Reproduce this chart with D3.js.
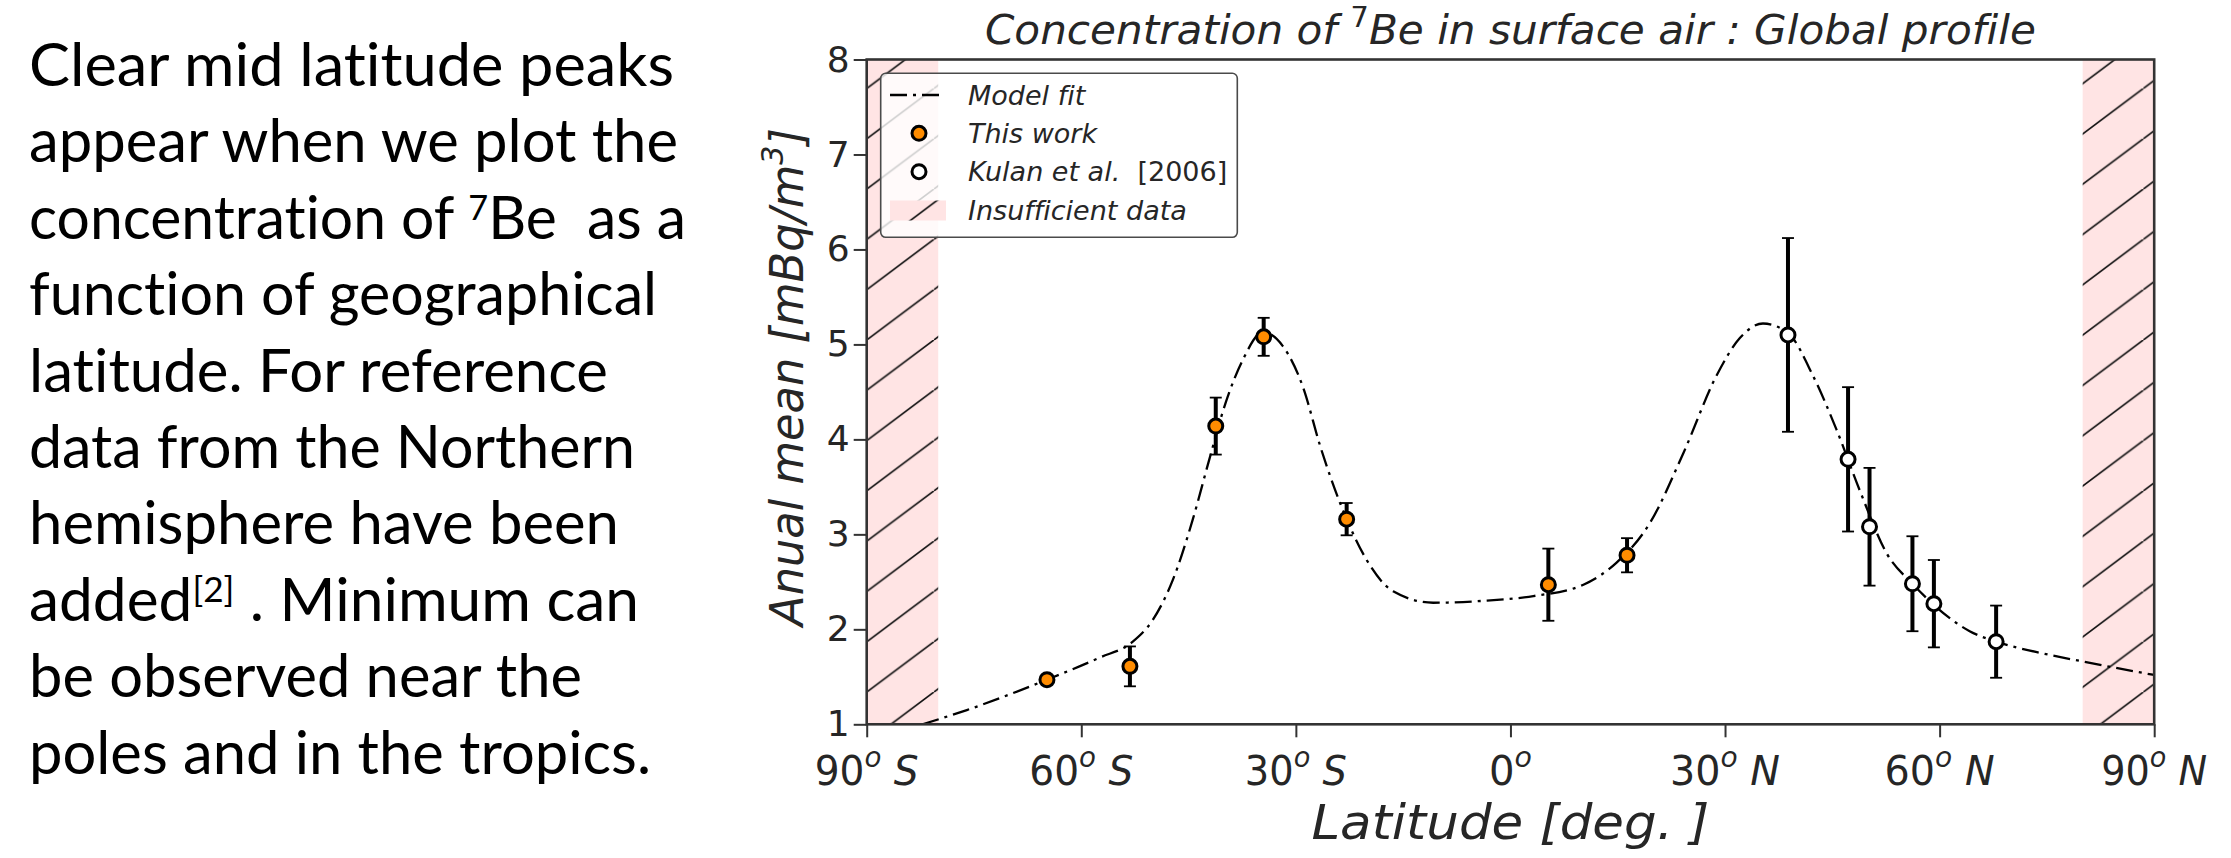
<!DOCTYPE html>
<html>
<head>
<meta charset="utf-8">
<script src="https://cdn.jsdelivr.net/npm/d3@7"></script>
<style>
  html, body { margin: 0; padding: 0; background: #fff; }
  svg { display: block; }
  text { white-space: pre; font-variant-ligatures: none; }
</style>
</head>
<body>
<div id="chart"></div>
<script>
// ---- data ----
const thisWorkLat = [-64.8, -53.2, -41.2, -34.5, -22.9, 5.3, 16.3];
const thisWorkVal = [1.47, 1.61, 4.14, 5.08, 3.16, 2.47, 2.78];
const thisWorkErr = [0.04, 0.21, 0.30, 0.20, 0.17, 0.38, 0.18];

const kulanLat = [38.8, 47.2, 50.2, 56.2, 59.2, 67.9];
const kulanVal = [5.10, 3.79, 3.08, 2.48, 2.27, 1.87];
const kulanErr = [1.02, 0.76, 0.62, 0.50, 0.46, 0.38];

const fitLat = [-82.2, -76, -64.8, -57.5, -52.8, -50, -47.2, -44.4, -42.1, -39.8, -37.4, -34.6,
  -31.8, -29, -26.6, -22.9, -20.1, -16.4, -10.8, -3.8, 3.2, 10.2, 14.8, 19.5, 24.2, 28.8,
  32.1, 35.3, 38.8, 42.3, 45.6, 48.9, 52.6, 56.2, 59.6, 64.2, 67.9, 73.6, 80.1, 88.5, 90];
const fitVal = [1.0, 1.15, 1.47, 1.70, 1.87, 2.10, 2.52, 3.16, 3.79, 4.39, 4.84, 5.13,
  4.98, 4.55, 3.93, 3.16, 2.73, 2.40, 2.28, 2.30, 2.35, 2.47, 2.70, 3.12, 3.86, 4.67,
  5.07, 5.22, 5.12, 4.67, 4.10, 3.45, 2.80, 2.48, 2.23, 1.98, 1.87, 1.76, 1.66, 1.54, 1.52];

const insufficientBands = [[-90, -80], [80, 90]];

const xTickValues = [-90, -60, -30, 0, 30, 60, 90];
const xTickNums = ["90", "60", "30", "0", "30", "60", "90"];
const xTickHemi = ["S", "S", "S", "", "N", "N", "N"];
const yTickValues = [1, 2, 3, 4, 5, 6, 7, 8];

const legendLabels = ["Model fit", "This work", "Kulan et al.", "Insufficient data"];

const noteLines = [
  ["Clear mid latitude peaks"],
  ["appear when we plot the"],
  ["concentration of ", "7", "Be  as a"],
  ["function of geographical"],
  ["latitude. For reference"],
  ["data from the Northern"],
  ["hemisphere have been"],
  ["added", "[2]", " . Minimum can"],
  ["be observed near the"],
  ["poles and in the tropics."]
];
const noteWidths = [645, 649, 657, 628, 579, 606, 590, 610, 553, 622];

// ---- layout ----
const W = 2231, H = 858;
const axL = 866.7, axR = 2154.2, axT = 59.5, axB = 724.3;
const ink = "#262626";
const chartFont = "'DejaVu Sans', sans-serif";

const svg = d3.select("#chart").append("svg")
  .attr("width", W).attr("height", H);
const defs = svg.append("defs");

const x = d3.scaleLinear().domain([-90, 90]).range([axL, axR]);
const y = d3.scaleLinear().domain([1, 8]).range([axB, axT]);

// hatch pattern '/' on light pink
function hatch(id, ox, oy) {
  const h = 50.3, w = h / 0.7486;
  const p = defs.append("pattern").attr("id", id)
    .attr("patternUnits", "userSpaceOnUse")
    .attr("x", ox).attr("y", oy).attr("width", w).attr("height", h);
  p.append("rect").attr("width", w).attr("height", h).attr("fill", "#ffe4e4");
  p.append("path")
    .attr("d", `M${-w / 2},${1.5 * h}L${1.5 * w},${-h / 2}M${-w},${h}L0,0M${w},${2 * h}L${2 * w},${h}`)
    .attr("stroke", "#111").attr("stroke-width", 1.7).attr("fill", "none");
}
hatch("hatchMain", axL, 340 - 50.3);
hatch("hatchLegend", 890, 221.7 - 50.3 + 14);

defs.append("clipPath").attr("id", "plotClip")
  .append("rect").attr("x", axL).attr("y", axT).attr("width", axR - axL).attr("height", axB - axT);

// ---- left note text ----
const note = svg.append("g").attr("font-family", "Lato, 'Open Sans', sans-serif")
  .attr("font-size", 60).attr("fill", "#000");
noteLines.forEach((parts, i) => {
  const t = note.append("text")
    .attr("x", 29).attr("y", 86 + i * 76.4)
    .attr("textLength", noteWidths[i]).attr("lengthAdjust", "spacingAndGlyphs");
  parts.forEach((s, k) => {
    if (parts.length === 3 && k === 1) {
      t.append("tspan").attr("font-size", 35).attr("dy", -19).text(s);
    } else if (parts.length === 3 && k === 2) {
      t.append("tspan").attr("dy", 19).text(s);
    } else {
      t.append("tspan").text(s);
    }
  });
});

// ---- insufficient data bands ----
const plot = svg.append("g").attr("clip-path", "url(#plotClip)");
plot.selectAll("rect.band")
  .data(insufficientBands)
  .join("rect")
    .attr("class", "band")
    .attr("x", d => x(d[0]))
    .attr("y", axT)
    .attr("width", d => x(d[1]) - x(d[0]))
    .attr("height", axB - axT)
    .attr("fill", "url(#hatchMain)");

// ---- model fit ----
const fitData = fitLat.map((d, i) => [d, fitVal[i]]);
const line = d3.line()
  .x(d => x(d[0])).y(d => y(d[1]))
  .curve(d3.curveMonotoneX);
plot.append("path")
  .datum(fitData)
  .attr("d", line)
  .attr("fill", "none")
  .attr("stroke", "#000")
  .attr("stroke-width", 2.3)
  .attr("stroke-dasharray", "17,6,3,6");

// ---- error bars + markers ----
function series(lat, val, err, fill, cls) {
  const data = lat.map((d, i) => ({lat: d, v: val[i], e: err[i]}));
  const g = svg.append("g").attr("class", cls);
  g.selectAll("line.bar").data(data).join("line")
    .attr("class", "bar")
    .attr("x1", d => x(d.lat)).attr("x2", d => x(d.lat))
    .attr("y1", d => y(d.v - d.e)).attr("y2", d => y(d.v + d.e))
    .attr("stroke", "#000").attr("stroke-width", 4);
  ["top", "bottom"].forEach(side => {
    g.selectAll("line.cap-" + side).data(data).join("line")
      .attr("class", "cap-" + side)
      .attr("x1", d => x(d.lat) - 6).attr("x2", d => x(d.lat) + 6)
      .attr("y1", d => y(side === "top" ? d.v + d.e : d.v - d.e))
      .attr("y2", d => y(side === "top" ? d.v + d.e : d.v - d.e))
      .attr("stroke", "#000").attr("stroke-width", 1.8);
  });
  g.selectAll("circle").data(data).join("circle")
    .attr("cx", d => x(d.lat)).attr("cy", d => y(d.v))
    .attr("r", 7).attr("fill", fill)
    .attr("stroke", "#000").attr("stroke-width", 3);
}
series(thisWorkLat, thisWorkVal, thisWorkErr, "#ff8c00", "thiswork");
series(kulanLat, kulanVal, kulanErr, "#fff", "kulan");

// ---- axes ----
const yAxis = d3.axisLeft(y).tickValues(yTickValues).tickFormat(d3.format("d"))
  .tickSize(13).tickSizeOuter(0).tickPadding(4);
const gy = svg.append("g").attr("transform", `translate(${axL},0)`).call(yAxis);
gy.select(".domain").remove();
gy.selectAll(".tick line").attr("stroke", "#333").attr("stroke-width", 2);
gy.selectAll(".tick text")
  .attr("font-family", chartFont).attr("font-size", 36).attr("fill", ink);

const xAxis = d3.axisBottom(x).tickValues(xTickValues).tickSize(13).tickSizeOuter(0).tickFormat("");
const gx = svg.append("g").attr("transform", `translate(0,${axB})`).call(xAxis);
gx.select(".domain").remove();
gx.selectAll(".tick line").attr("stroke", "#333").attr("stroke-width", 2);

const xLabelWidths = [104, 104, 102, 43, 110, 110, 106];
xTickValues.forEach((v, i) => {
  const t = svg.append("text")
    .attr("x", x(v)).attr("y", 785)
    .attr("text-anchor", "middle")
    .attr("font-family", chartFont).attr("font-size", 41).attr("fill", ink)
    .attr("textLength", xLabelWidths[i]).attr("lengthAdjust", "spacingAndGlyphs");
  t.append("tspan").text(xTickNums[i]);
  t.append("tspan").attr("font-size", 29).attr("dy", -18).attr("font-style", "italic").text("o");
  if (xTickHemi[i]) {
    t.append("tspan").attr("dy", 18).attr("font-style", "italic").text(" " + xTickHemi[i]);
  }
});

// spines
svg.append("rect")
  .attr("x", axL).attr("y", axT).attr("width", axR - axL).attr("height", axB - axT)
  .attr("fill", "none").attr("stroke", "#333").attr("stroke-width", 2.6);

// axis titles
svg.append("text")
  .attr("x", (axL + axR) / 2).attr("y", 839)
  .attr("text-anchor", "middle")
  .attr("font-family", chartFont).attr("font-size", 48).attr("font-style", "italic").attr("fill", ink)
  .attr("textLength", 398).attr("lengthAdjust", "spacingAndGlyphs")
  .text("Latitude [deg. ]");

const yl = svg.append("text")
  .attr("transform", "translate(803,377) rotate(-90)")
  .attr("text-anchor", "middle")
  .attr("font-family", chartFont).attr("font-size", 46).attr("font-style", "italic").attr("fill", ink)
  .attr("textLength", 498).attr("lengthAdjust", "spacingAndGlyphs");
yl.append("tspan").text("Anual mean [mBq/m");
yl.append("tspan").attr("font-size", 31).attr("dy", -20).text("3");
yl.append("tspan").attr("dy", 20).text("]");

const title = svg.append("text")
  .attr("x", (axL + axR) / 2).attr("y", 44)
  .attr("text-anchor", "middle")
  .attr("font-family", chartFont).attr("font-size", 41).attr("font-style", "italic").attr("fill", ink)
  .attr("textLength", 1051).attr("lengthAdjust", "spacingAndGlyphs");
title.append("tspan").text("Concentration of ");
title.append("tspan").attr("font-size", 28).attr("dy", -17).attr("font-style", "normal").text("7");
title.append("tspan").attr("dy", 17).text("Be in surface air : Global profile");

// ---- legend ----
const lg = svg.append("g").attr("font-family", chartFont).attr("font-size", 27).attr("fill", ink);
lg.append("rect")
  .attr("x", 880.7).attr("y", 73.3).attr("width", 356.6).attr("height", 164).attr("rx", 5)
  .attr("fill", "#fff").attr("fill-opacity", 0.8)
  .attr("stroke", "#4a4a4a").attr("stroke-width", 1.6);
const rowY = [95, 133.3, 171.7, 210];
lg.append("line")
  .attr("x1", 890).attr("x2", 945).attr("y1", rowY[0]).attr("y2", rowY[0])
  .attr("stroke", "#000").attr("stroke-width", 2.3).attr("stroke-dasharray", "17,6,3,6");
lg.append("circle").attr("cx", 919).attr("cy", rowY[1]).attr("r", 7)
  .attr("fill", "#ff8c00").attr("stroke", "#000").attr("stroke-width", 3);
lg.append("circle").attr("cx", 919).attr("cy", rowY[2]).attr("r", 7)
  .attr("fill", "#fff").attr("stroke", "#000").attr("stroke-width", 3);
lg.append("rect").attr("x", 890).attr("y", rowY[3] - 9.5).attr("width", 56).attr("height", 20)
  .attr("fill", "url(#hatchLegend)");
legendLabels.forEach((s, i) => {
  const t = lg.append("text").attr("x", 968).attr("y", rowY[i] + 9.5).attr("font-style", "italic");
  t.append("tspan").text(s);
  if (i === 2) t.append("tspan").attr("font-style", "normal").text("  [2006]");
});
</script>
</body>
</html>
